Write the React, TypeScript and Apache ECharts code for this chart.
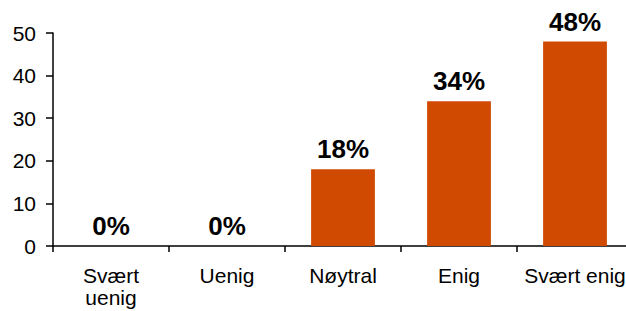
import React, { useEffect, useRef } from "react";
import * as echarts from "echarts";

const categories = ["Svært\nuenig", "Uenig", "Nøytral", "Enig", "Svært enig"];
const values = [0, 0, 18, 34, 48];
const yTicks = { min: 0, max: 50, interval: 10 };

export default function App() {
  const ref = useRef<HTMLDivElement>(null);
  useEffect(() => {
    const chart = echarts.init(ref.current!, null, { renderer: "svg" });
    chart.setOption({
      animation: false,
      grid: { left: 53, top: 33, bottom: 65, right: 0, containLabel: false },
      xAxis: {
        type: "category",
        data: categories,
        axisLine: { lineStyle: { color: "#000", width: 1.5 } },
        axisTick: { show: true, length: 6, lineStyle: { color: "#000", width: 1.5 } },
        axisLabel: {
          color: "#000",
          fontSize: 21,
          fontFamily: "Liberation Sans, Arial, sans-serif",
          lineHeight: 22,
          margin: 18,
          interval: 0,
        },
      },
      yAxis: {
        type: "value",
        min: yTicks.min,
        max: yTicks.max,
        interval: yTicks.interval,
        splitLine: { show: false },
        axisLine: { show: true, lineStyle: { color: "#000", width: 1.5 } },
        axisTick: { show: true, length: 7, lineStyle: { color: "#000", width: 1.5 } },
        axisLabel: {
          color: "#000",
          fontSize: 21,
          fontFamily: "Liberation Sans, Arial, sans-serif",
          margin: 17,
        },
      },
      series: [
        {
          type: "bar",
          data: values,
          barWidth: "55%",
          itemStyle: { color: "#D04A02" },
          label: {
            show: true,
            position: "top",
            distance: 7,
            formatter: "{c}%",
            color: "#000",
            fontSize: 26,
            fontWeight: "bold",
            fontFamily: "Liberation Sans, Arial, sans-serif",
          },
        },
      ],
    });
    return () => chart.dispose();
  }, []);
  return (
    <div
      ref={ref}
      style={{ position: "fixed", left: 0, top: 0, width: 633, height: 311, background: "#fff" }}
    />
  );
}
